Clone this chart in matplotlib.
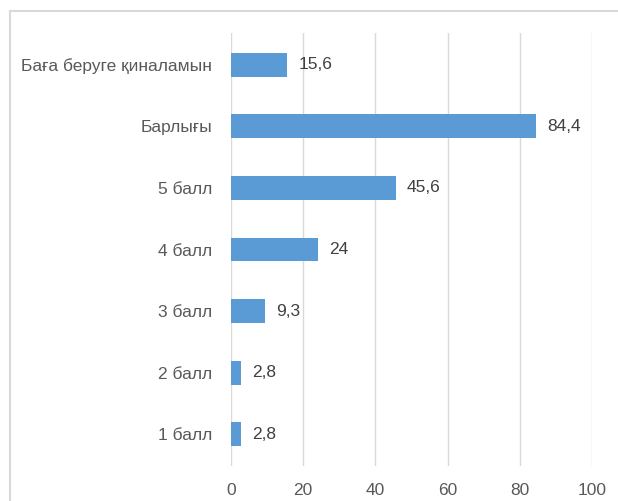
import matplotlib
matplotlib.use("Agg")
import matplotlib.pyplot as plt
from matplotlib.lines import Line2D

categories = ["1 балл", "2 балл", "3 балл", "4 балл", "5 балл", "Барлығы", "Баға беруге қиналамын"]
values = [2.8, 2.8, 9.3, 24, 45.6, 84.4, 15.6]
labels = ["2,8", "2,8", "9,3", "24", "45,6", "84,4", "15,6"]
xticks = [0, 20, 40, 60, 80, 100]

plt.rcParams['font.family'] = ['Liberation Sans', 'DejaVu Sans']
W, H = 618, 501
fig = plt.figure(figsize=(W/100, H/100), dpi=100)
ax = fig.add_axes([231/W, 1-466/H, (592-231)/W, (466-33)/H])

y = list(range(len(categories)))
ax.barh(y, values, height=0.39, color="#5B9BD5", zorder=3)
for yi, v, lab in zip(y, values, labels):
    ax.annotate(lab, (v, yi), xytext=(8, 0), textcoords="offset points",
                va="center", ha="left", fontsize=12.5, color="#404040")

ax.set_xlim(0, 100)
ax.set_ylim(-0.52, 6.52)
ax.set_xticks(xticks)
ax.set_xticklabels([str(t) for t in xticks])
ax.set_yticks(y)
ax.set_yticklabels(categories)
ax.tick_params(axis="both", length=0, labelsize=12.5, labelcolor="#595959")
ax.tick_params(axis="x", pad=12)
ax.tick_params(axis="y", pad=13.5)
ax.grid(axis="x", color="#D9D9D9", linewidth=1, zorder=0)
for s in ax.spines.values():
    s.set_visible(False)

fig.add_artist(Line2D([10/W, 10/W], [0, 1-11/H], color="#D9D9D9", lw=1.5, transform=fig.transFigure))
fig.add_artist(Line2D([10/W, 1], [1-11/H, 1-11/H], color="#D9D9D9", lw=1.5, transform=fig.transFigure))

fig.savefig("out.png", dpi=100)
